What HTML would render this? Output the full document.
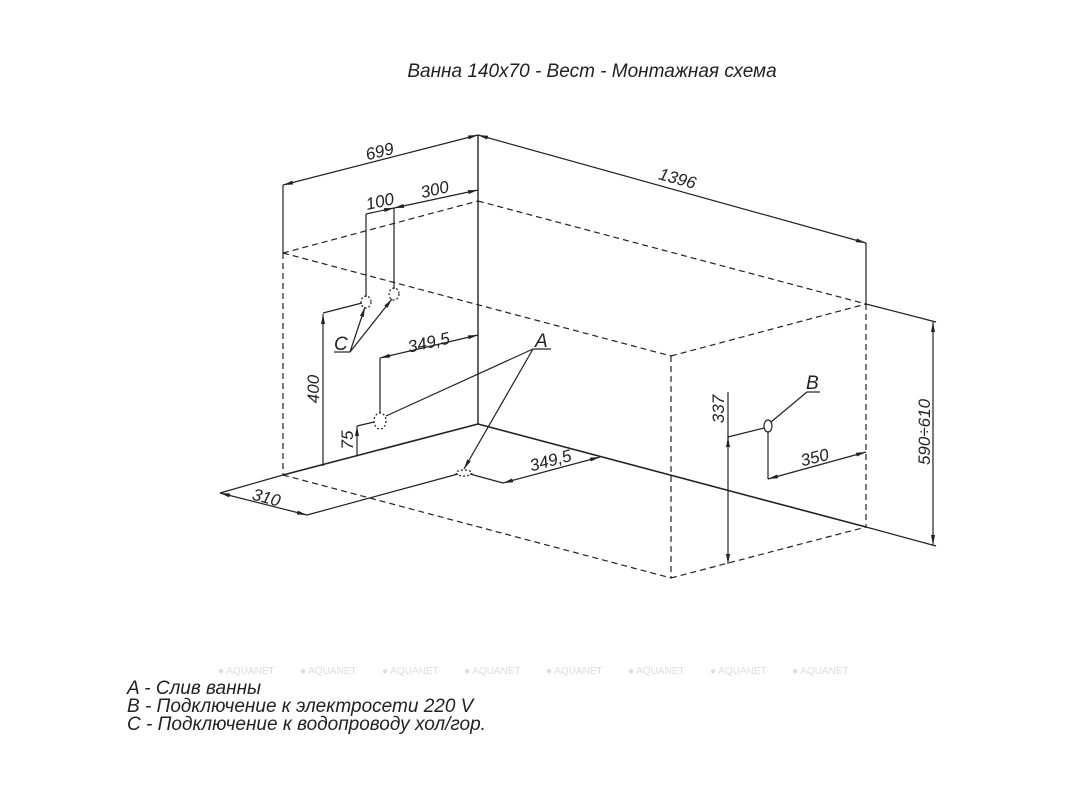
<!DOCTYPE html>
<html><head><meta charset="utf-8"><style>
html,body{margin:0;padding:0;background:#fff}
svg{display:block}
text{font-family:"Liberation Sans",sans-serif;font-style:italic;fill:#222}
text.wm{fill:#dcdcdc;font-style:normal}
</style></head><body>
<svg width="1067" height="800" viewBox="0 0 1067 800" xmlns="http://www.w3.org/2000/svg">
<defs>
<marker id="ar" viewBox="0 0 10 4" refX="10" refY="2" markerWidth="10" markerHeight="4" markerUnits="userSpaceOnUse" orient="auto-start-reverse">
<path d="M0,0 L10,2 L0,4 z" fill="#222"/></marker>
</defs>
<text x="592" y="77" font-size="19" text-anchor="middle">Ванна 140x70 - Вест - Монтажная схема</text>

<g stroke="#222" stroke-width="1.2" fill="none">
<g stroke-dasharray="6,4">
<line x1="283" y1="253" x2="478" y2="201"/>
<line x1="478" y1="201" x2="866" y2="304"/>
<line x1="283" y1="253" x2="671" y2="356"/>
<line x1="671" y1="356" x2="866" y2="304"/>
<line x1="671" y1="356" x2="671" y2="578"/>
<line x1="866" y1="304" x2="866" y2="527"/>
<line x1="671" y1="578" x2="866" y2="527"/>
<line x1="283" y1="475" x2="671" y2="578"/>
<line x1="283" y1="253" x2="283" y2="475"/>
</g>
<line x1="478" y1="135" x2="478" y2="424" stroke-width="1.4"/>
<line x1="283" y1="475" x2="478" y2="424" stroke-width="1.6"/>
<line x1="478" y1="424" x2="866" y2="527" stroke-width="1.6"/>
<line x1="283" y1="185" x2="283" y2="253"/>
<line x1="283" y1="185" x2="478" y2="135" marker-start="url(#ar)" marker-end="url(#ar)"/>
<line x1="478" y1="135" x2="866" y2="243" marker-start="url(#ar)" marker-end="url(#ar)"/>
<line x1="866" y1="243" x2="866" y2="304"/>
<line x1="866" y1="304" x2="936" y2="322"/>
<line x1="866" y1="527" x2="936" y2="546"/>
<line x1="933" y1="322" x2="933" y2="545" marker-start="url(#ar)" marker-end="url(#ar)"/>
<line x1="366" y1="214" x2="366" y2="297"/>
<line x1="394" y1="208" x2="394" y2="289"/>
<line x1="366" y1="214" x2="394" y2="208" marker-end="url(#ar)"/>
<line x1="394" y1="208" x2="478" y2="190" marker-start="url(#ar)" marker-end="url(#ar)"/>
<ellipse cx="366" cy="302" rx="5" ry="6" stroke-dasharray="2,2"/>
<ellipse cx="394" cy="294" rx="5" ry="6" stroke-dasharray="2,2"/>
<line x1="334" y1="352" x2="350" y2="352"/>
<line x1="350" y1="352" x2="365" y2="307" marker-end="url(#ar)"/>
<line x1="350" y1="352" x2="392" y2="299" marker-end="url(#ar)"/>
<line x1="323" y1="313" x2="362" y2="303"/>
<line x1="323" y1="314" x2="323" y2="466" marker-start="url(#ar)"/>
<ellipse cx="380" cy="421" rx="6" ry="8" stroke-dasharray="2,2"/>
<line x1="380" y1="358" x2="380" y2="413"/>
<line x1="380" y1="358" x2="478" y2="335" marker-start="url(#ar)" marker-end="url(#ar)"/>
<line x1="357" y1="426" x2="374" y2="422"/>
<line x1="357" y1="426" x2="357" y2="455" marker-start="url(#ar)"/>
<line x1="533" y1="349" x2="551" y2="349"/>
<line x1="533" y1="349" x2="386" y2="416"/>
<line x1="533" y1="349" x2="464" y2="469" marker-end="url(#ar)"/>
<ellipse cx="464" cy="473" rx="8" ry="3" stroke-dasharray="2,2"/>
<line x1="307" y1="515" x2="458" y2="474"/>
<line x1="220" y1="493" x2="283" y2="475"/>
<line x1="220" y1="493" x2="307" y2="515" marker-start="url(#ar)" marker-end="url(#ar)"/>
<line x1="470" y1="474" x2="503" y2="483"/>
<line x1="503" y1="483" x2="600" y2="457" marker-start="url(#ar)" marker-end="url(#ar)"/>
<ellipse cx="768" cy="426" rx="4" ry="6"/>
<line x1="771" y1="422" x2="807" y2="392"/>
<line x1="807" y1="392" x2="820" y2="392"/>
<line x1="728" y1="437" x2="764" y2="428"/>
<line x1="728" y1="392" x2="728" y2="564" marker-end="url(#ar)"/>
<line x1="728" y1="437" x2="728" y2="447" marker-start="url(#ar)"/>
<line x1="768" y1="432" x2="768" y2="479"/>
<line x1="768" y1="479" x2="866" y2="452" marker-start="url(#ar)" marker-end="url(#ar)"/>
</g>

<g font-size="17">
<text transform="translate(381,157) rotate(-14)" text-anchor="middle">699</text>
<text transform="translate(676,184) rotate(15.5)" text-anchor="middle">1396</text>
<text transform="translate(381,207) rotate(-12)" text-anchor="middle">100</text>
<text transform="translate(436,195) rotate(-13)" text-anchor="middle">300</text>
<text transform="translate(430,348) rotate(-13)" text-anchor="middle">349,5</text>
<text transform="translate(552,466) rotate(-15)" text-anchor="middle">349,5</text>
<text transform="translate(265,503) rotate(15)" text-anchor="middle">310</text>
<text transform="translate(319,389) rotate(-90)" text-anchor="middle">400</text>
<text transform="translate(353,440) rotate(-90)" text-anchor="middle">75</text>
<text transform="translate(724,409) rotate(-90)" text-anchor="middle">337</text>
<text transform="translate(930,432) rotate(-90)" text-anchor="middle">590÷610</text>
<text transform="translate(816,463) rotate(-14)" text-anchor="middle">350</text>
<text x="334" y="350" font-size="19">C</text>
<text x="535" y="347" font-size="19">A</text>
<text x="806" y="389" font-size="19">B</text>
</g>

<g font-size="10">
<text class="wm" x="218" y="674">● AQUANET</text>
<text class="wm" x="300" y="674">● AQUANET</text>
<text class="wm" x="382" y="674">● AQUANET</text>
<text class="wm" x="464" y="674">● AQUANET</text>
<text class="wm" x="546" y="674">● AQUANET</text>
<text class="wm" x="628" y="674">● AQUANET</text>
<text class="wm" x="710" y="674">● AQUANET</text>
<text class="wm" x="792" y="674">● AQUANET</text>
</g>
<g font-size="19">
<text x="127" y="694">A - Слив ванны</text>
<text x="127" y="712">B - Подключение к электросети 220 V</text>
<text x="127" y="730">C - Подключение к водопроводу хол/гор.</text>
</g>
</svg>
</body></html>
